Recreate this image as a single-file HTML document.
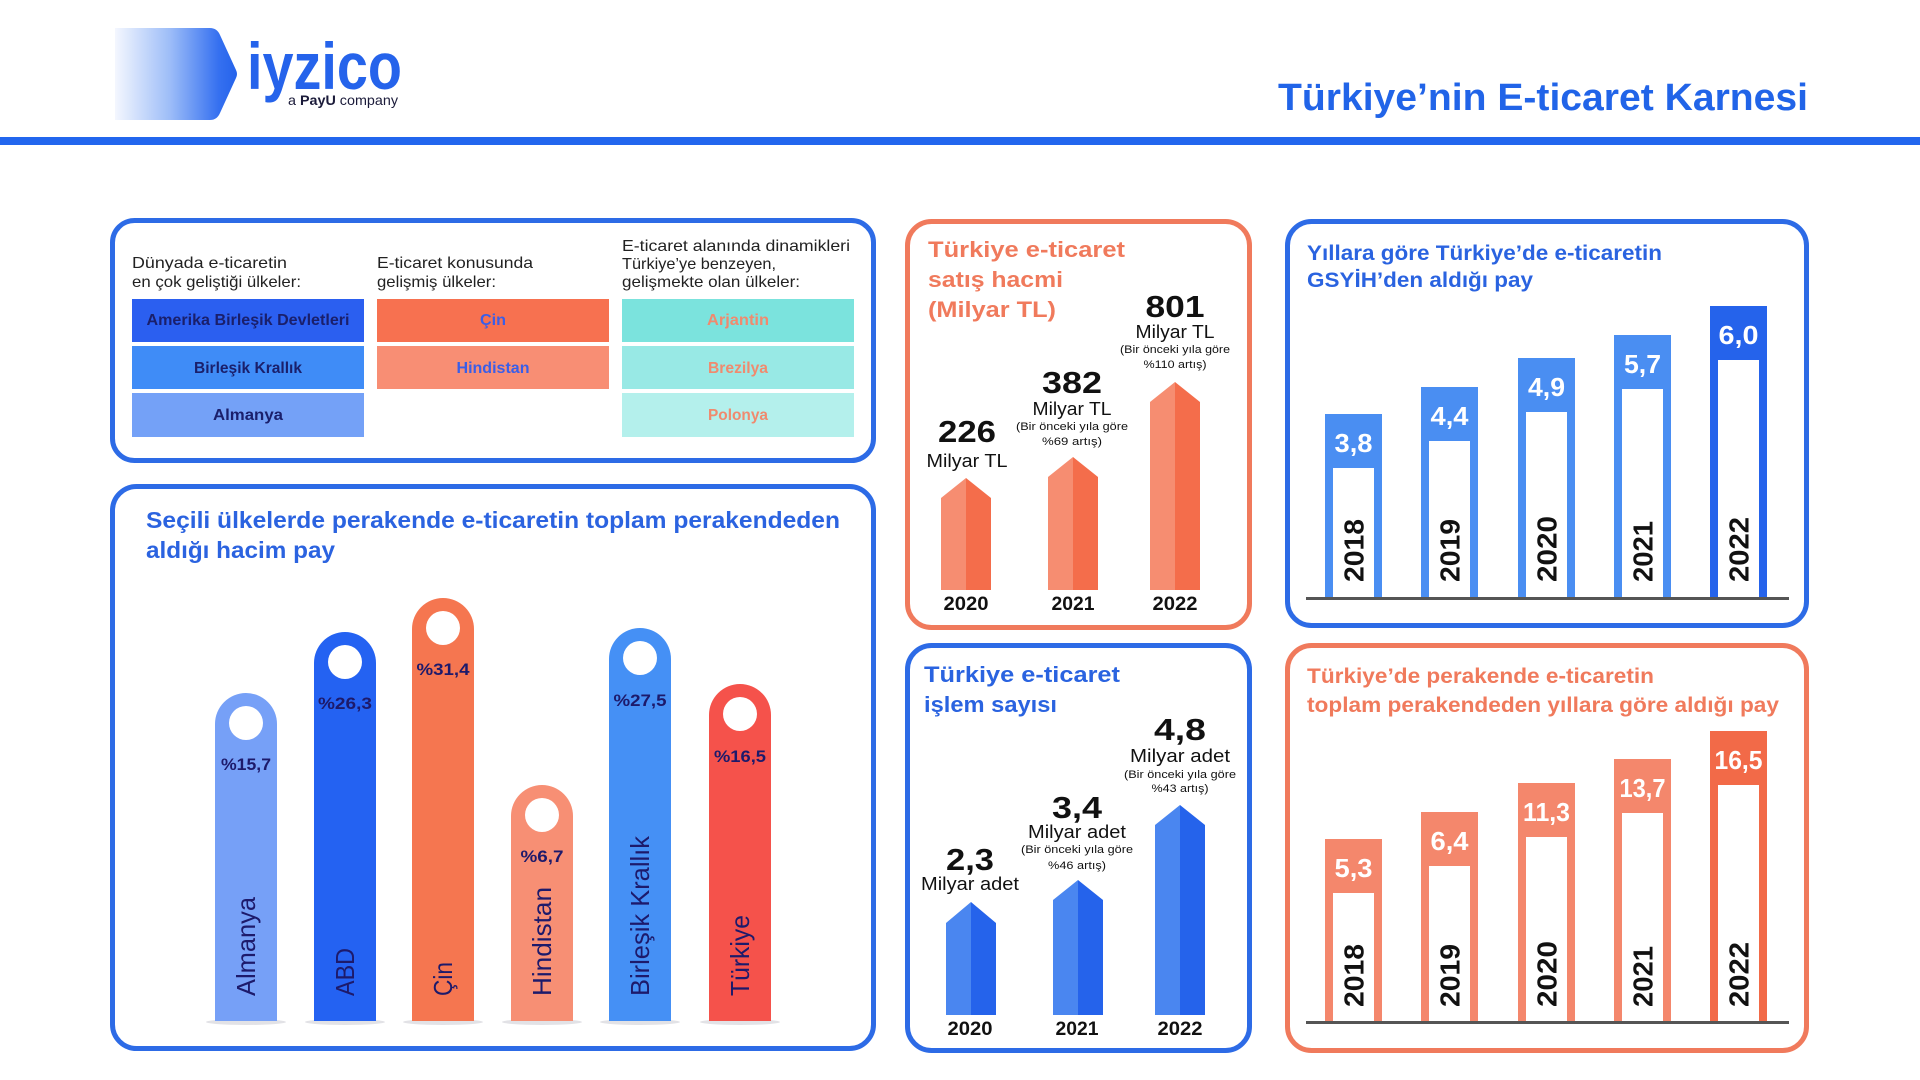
<!DOCTYPE html>
<html><head><meta charset="utf-8">
<style>
html,body{margin:0;padding:0;background:#fff;}
svg{display:block}
text{font-family:"Liberation Sans",sans-serif}
.b{font-weight:bold}
</style></head>
<body>
<svg width="1920" height="1080" viewBox="0 0 1920 1080" xmlns="http://www.w3.org/2000/svg">
<defs>
<linearGradient id="lg" x1="0" x2="1" y1="0" y2="0">
<stop offset="0" stop-color="#f4f7fe"/>
<stop offset="0.45" stop-color="#9dbdf8"/>
<stop offset="0.85" stop-color="#3570f0"/>
<stop offset="1" stop-color="#2563eb"/>
</linearGradient>
</defs>
<rect width="1920" height="1080" fill="#fff"/>

<!-- Logo -->
<path d="M115 28 H210 Q217 28 220 35 L236 70 Q238 74 236 78 L220 113 Q217 120 210 120 H115 Z" fill="url(#lg)"/>
<text x="247" y="89" font-size="66" class="b" fill="#2563eb" textLength="155" lengthAdjust="spacingAndGlyphs">iyzico</text>
<text x="288" y="105" font-size="14" fill="#1b1b3a" textLength="110" lengthAdjust="spacingAndGlyphs">a <tspan font-weight="bold">PayU</tspan> company</text>

<!-- Title -->
<text x="1278" y="110" font-size="38" class="b" fill="#2164e8" textLength="530" lengthAdjust="spacingAndGlyphs">Türkiye’nin E-ticaret Karnesi</text>
<rect x="0" y="137" width="1920" height="8" fill="#2266ee"/>

<!-- Boxes -->
<rect x="112.5" y="220.5" width="761" height="240" rx="22" fill="none" stroke="#2d6be6" stroke-width="5"/>
<rect x="112.5" y="486.5" width="761" height="562" rx="24" fill="none" stroke="#2d6be6" stroke-width="5"/>
<rect x="907.5" y="221.5" width="342" height="406" rx="24" fill="none" stroke="#f07a5c" stroke-width="5"/>
<rect x="907.5" y="645.5" width="342" height="405" rx="24" fill="none" stroke="#2d6be6" stroke-width="5"/>
<rect x="1287.5" y="221.5" width="519" height="404" rx="24" fill="none" stroke="#2d6be6" stroke-width="5"/>
<rect x="1287.5" y="645.5" width="519" height="405" rx="24" fill="none" stroke="#f07a5c" stroke-width="5"/>

<!-- Box 1 -->
<g font-size="16" fill="#222">
<text x="132" y="268" textLength="155" lengthAdjust="spacingAndGlyphs">Dünyada e-ticaretin</text>
<text x="132" y="287" textLength="169" lengthAdjust="spacingAndGlyphs">en çok geliştiği ülkeler:</text>
<text x="377" y="268" textLength="156" lengthAdjust="spacingAndGlyphs">E-ticaret konusunda</text>
<text x="377" y="287" textLength="119" lengthAdjust="spacingAndGlyphs">gelişmiş ülkeler:</text>
<text x="622" y="251" textLength="228" lengthAdjust="spacingAndGlyphs">E-ticaret alanında dinamikleri</text>
<text x="622" y="269" textLength="154" lengthAdjust="spacingAndGlyphs">Türkiye’ye benzeyen,</text>
<text x="622" y="287" textLength="178" lengthAdjust="spacingAndGlyphs">gelişmekte olan ülkeler:</text>
</g>
<rect x="132" y="299" width="232" height="43" fill="#2b5ff0"/>
<rect x="132" y="346" width="232" height="43" fill="#3f8cf7"/>
<rect x="132" y="393" width="232" height="44" fill="#74a1f7"/>
<rect x="377" y="299" width="232" height="43" fill="#f77150"/>
<rect x="377" y="346" width="232" height="43" fill="#f88e74"/>
<rect x="622" y="299" width="232" height="43" fill="#7be3dd"/>
<rect x="622" y="346" width="232" height="43" fill="#98e9e5"/>
<rect x="622" y="393" width="232" height="44" fill="#b4f0ec"/>
<g font-size="16" class="b" text-anchor="middle">
<text x="248" y="325" fill="#1a1f6b" textLength="203" lengthAdjust="spacingAndGlyphs">Amerika Birleşik Devletleri</text>
<text x="248" y="373" fill="#1a1f6b" textLength="108" lengthAdjust="spacingAndGlyphs">Birleşik Krallık</text>
<text x="248" y="420" fill="#1a1f6b" textLength="70" lengthAdjust="spacingAndGlyphs">Almanya</text>
<text x="493" y="325" fill="#3a5ee8" textLength="26" lengthAdjust="spacingAndGlyphs">Çin</text>
<text x="493" y="373" fill="#3a5ee8" textLength="73" lengthAdjust="spacingAndGlyphs">Hindistan</text>
<text x="738" y="325" fill="#f08a6e" textLength="62" lengthAdjust="spacingAndGlyphs">Arjantin</text>
<text x="738" y="373" fill="#f08a6e" textLength="60" lengthAdjust="spacingAndGlyphs">Brezilya</text>
<text x="738" y="420" fill="#f08a6e" textLength="60" lengthAdjust="spacingAndGlyphs">Polonya</text>
</g>

<!-- Box 2 -->
<text x="146" y="528" font-size="23" class="b" fill="#2b63e0" textLength="694" lengthAdjust="spacingAndGlyphs">Seçili ülkelerde perakende e-ticaretin toplam perakendeden</text>
<text x="146" y="558" font-size="23" class="b" fill="#2b63e0" textLength="189" lengthAdjust="spacingAndGlyphs">aldığı hacim pay</text>

<g fill="#cfcfd6" opacity="0.6">
<ellipse cx="246" cy="1022" rx="40" ry="3"/>
<ellipse cx="345" cy="1022" rx="40" ry="3"/>
<ellipse cx="443" cy="1022" rx="40" ry="3"/>
<ellipse cx="542" cy="1022" rx="40" ry="3"/>
<ellipse cx="640" cy="1022" rx="40" ry="3"/>
<ellipse cx="740" cy="1022" rx="40" ry="3"/>
</g>
<path d="M215 1021 V724 A31 31 0 0 1 277 724 V1021 Z" fill="#76a0f7"/>
<path d="M314 1021 V663 A31 31 0 0 1 376 663 V1021 Z" fill="#2462f2"/>
<path d="M412 1021 V629 A31 31 0 0 1 474 629 V1021 Z" fill="#f57650"/>
<path d="M511 1021 V816 A31 31 0 0 1 573 816 V1021 Z" fill="#f78f74"/>
<path d="M609 1021 V659 A31 31 0 0 1 671 659 V1021 Z" fill="#4590f5"/>
<path d="M709 1021 V715 A31 31 0 0 1 771 715 V1021 Z" fill="#f5524b"/>
<g fill="#fff">
<circle cx="246" cy="723" r="17"/>
<circle cx="345" cy="662" r="17"/>
<circle cx="443" cy="628" r="17"/>
<circle cx="542" cy="815" r="17"/>
<circle cx="640" cy="658" r="17"/>
<circle cx="740" cy="714" r="17"/>
</g>
<g font-size="17" class="b" fill="#1d1a6b" text-anchor="middle">
<text x="246" y="770" textLength="50" lengthAdjust="spacingAndGlyphs">%15,7</text>
<text x="345" y="709" textLength="54" lengthAdjust="spacingAndGlyphs">%26,3</text>
<text x="443" y="675" textLength="53" lengthAdjust="spacingAndGlyphs">%31,4</text>
<text x="542" y="862" textLength="43" lengthAdjust="spacingAndGlyphs">%6,7</text>
<text x="640" y="706" textLength="53" lengthAdjust="spacingAndGlyphs">%27,5</text>
<text x="740" y="762" textLength="52" lengthAdjust="spacingAndGlyphs">%16,5</text>
</g>
<g font-size="26" fill="#1d1a6b">
<text transform="translate(255,996) rotate(-90)" textLength="99" lengthAdjust="spacingAndGlyphs">Almanya</text>
<text transform="translate(354,996) rotate(-90)" textLength="48" lengthAdjust="spacingAndGlyphs">ABD</text>
<text transform="translate(452,996) rotate(-90)" textLength="34" lengthAdjust="spacingAndGlyphs">Çin</text>
<text transform="translate(551,996) rotate(-90)" textLength="109" lengthAdjust="spacingAndGlyphs">Hindistan</text>
<text transform="translate(649,996) rotate(-90)" textLength="160" lengthAdjust="spacingAndGlyphs">Birleşik Krallık</text>
<text transform="translate(749,996) rotate(-90)" textLength="81" lengthAdjust="spacingAndGlyphs">Türkiye</text>
</g>

<!-- Box 3 -->
<g font-size="22" class="b" fill="#f07a5c">
<text x="928" y="257" textLength="197" lengthAdjust="spacingAndGlyphs">Türkiye e-ticaret</text>
<text x="928" y="287" textLength="135" lengthAdjust="spacingAndGlyphs">satış hacmi</text>
<text x="928" y="317" textLength="128" lengthAdjust="spacingAndGlyphs">(Milyar TL)</text>
</g>
<path d="M941 590 V498 L966 478 V590 Z" fill="#f68d71"/>
<path d="M966 478 L991 498 V590 H966 Z" fill="#f46d4b"/>
<path d="M1048 590 V477 L1073 457 V590 Z" fill="#f68d71"/>
<path d="M1073 457 L1098 477 V590 H1073 Z" fill="#f46d4b"/>
<path d="M1150 590 V402 L1175 382 V590 Z" fill="#f68d71"/>
<path d="M1175 382 L1200 402 V590 H1175 Z" fill="#f46d4b"/>
<g text-anchor="middle" fill="#111">
<text x="966" y="610" font-size="19" class="b" textLength="45" lengthAdjust="spacingAndGlyphs">2020</text>
<text x="1073" y="610" font-size="19" class="b" textLength="43" lengthAdjust="spacingAndGlyphs">2021</text>
<text x="1175" y="610" font-size="19" class="b" textLength="45" lengthAdjust="spacingAndGlyphs">2022</text>
<text x="967" y="442" font-size="31" class="b" textLength="58" lengthAdjust="spacingAndGlyphs">226</text>
<text x="967" y="467" font-size="18" textLength="81" lengthAdjust="spacingAndGlyphs">Milyar TL</text>
<text x="1072" y="393" font-size="31" class="b" textLength="60" lengthAdjust="spacingAndGlyphs">382</text>
<text x="1072" y="415" font-size="18" textLength="79" lengthAdjust="spacingAndGlyphs">Milyar TL</text>
<text x="1072" y="430" font-size="11" textLength="112" lengthAdjust="spacingAndGlyphs">(Bir önceki yıla göre</text>
<text x="1072" y="445" font-size="11" textLength="60" lengthAdjust="spacingAndGlyphs">%69 artış)</text>
<text x="1175" y="317" font-size="31" class="b" textLength="59" lengthAdjust="spacingAndGlyphs">801</text>
<text x="1175" y="338" font-size="18" textLength="79" lengthAdjust="spacingAndGlyphs">Milyar TL</text>
<text x="1175" y="353" font-size="11" textLength="110" lengthAdjust="spacingAndGlyphs">(Bir önceki yıla göre</text>
<text x="1175" y="368" font-size="11" textLength="63" lengthAdjust="spacingAndGlyphs">%110 artış)</text>
</g>

<!-- Box 4 -->
<g font-size="22" class="b" fill="#2a63e0">
<text x="924" y="682" textLength="196" lengthAdjust="spacingAndGlyphs">Türkiye e-ticaret</text>
<text x="924" y="712" textLength="133" lengthAdjust="spacingAndGlyphs">işlem sayısı</text>
</g>
<path d="M946 1015 V923 L971 902 V1015 Z" fill="#4a86f0"/>
<path d="M971 902 L996 923 V1015 H971 Z" fill="#2563eb"/>
<path d="M1053 1015 V900 L1078 880 V1015 Z" fill="#4a86f0"/>
<path d="M1078 880 L1103 900 V1015 H1078 Z" fill="#2563eb"/>
<path d="M1155 1015 V825 L1180 805 V1015 Z" fill="#4a86f0"/>
<path d="M1180 805 L1205 825 V1015 H1180 Z" fill="#2563eb"/>
<g text-anchor="middle" fill="#111">
<text x="970" y="1035" font-size="19" class="b" textLength="45" lengthAdjust="spacingAndGlyphs">2020</text>
<text x="1077" y="1035" font-size="19" class="b" textLength="43" lengthAdjust="spacingAndGlyphs">2021</text>
<text x="1180" y="1035" font-size="19" class="b" textLength="45" lengthAdjust="spacingAndGlyphs">2022</text>
<text x="970" y="870" font-size="31" class="b" textLength="48" lengthAdjust="spacingAndGlyphs">2,3</text>
<text x="970" y="890" font-size="18" textLength="98" lengthAdjust="spacingAndGlyphs">Milyar adet</text>
<text x="1077" y="818" font-size="31" class="b" textLength="50" lengthAdjust="spacingAndGlyphs">3,4</text>
<text x="1077" y="838" font-size="18" textLength="98" lengthAdjust="spacingAndGlyphs">Milyar adet</text>
<text x="1077" y="853" font-size="11" textLength="112" lengthAdjust="spacingAndGlyphs">(Bir önceki yıla göre</text>
<text x="1077" y="869" font-size="11" textLength="58" lengthAdjust="spacingAndGlyphs">%46 artış)</text>
<text x="1180" y="740" font-size="31" class="b" textLength="52" lengthAdjust="spacingAndGlyphs">4,8</text>
<text x="1180" y="762" font-size="18" textLength="100" lengthAdjust="spacingAndGlyphs">Milyar adet</text>
<text x="1180" y="778" font-size="11" textLength="112" lengthAdjust="spacingAndGlyphs">(Bir önceki yıla göre</text>
<text x="1180" y="792" font-size="11" textLength="57" lengthAdjust="spacingAndGlyphs">%43 artış)</text>
</g>

<!-- Box 5 -->
<g font-size="21" class="b" fill="#2a63e0">
<text x="1307" y="260" textLength="355" lengthAdjust="spacingAndGlyphs">Yıllara göre Türkiye’de e-ticaretin</text>
<text x="1307" y="287" textLength="226" lengthAdjust="spacingAndGlyphs">GSYİH’den aldığı pay</text>
</g>
<rect x="1325" y="414" width="57" height="184" fill="#4a8ef2"/>
<rect x="1421" y="387" width="57" height="211" fill="#4a8ef2"/>
<rect x="1518" y="358" width="57" height="240" fill="#4a8ef2"/>
<rect x="1614" y="335" width="57" height="263" fill="#4a8ef2"/>
<rect x="1710" y="306" width="57" height="292" fill="#2563eb"/>
<g fill="#fff">
<rect x="1333" y="468" width="41" height="130"/>
<rect x="1429" y="441" width="41" height="157"/>
<rect x="1526" y="412" width="41" height="186"/>
<rect x="1622" y="389" width="41" height="209"/>
<rect x="1718" y="360" width="41" height="238"/>
</g>
<rect x="1306" y="597" width="483" height="3" fill="#555"/>
<g font-size="26" class="b" fill="#fff" text-anchor="middle">
<text x="1353.5" y="452" textLength="38" lengthAdjust="spacingAndGlyphs">3,8</text>
<text x="1449.5" y="425" textLength="38" lengthAdjust="spacingAndGlyphs">4,4</text>
<text x="1546.5" y="396" textLength="37" lengthAdjust="spacingAndGlyphs">4,9</text>
<text x="1642.5" y="373" textLength="37" lengthAdjust="spacingAndGlyphs">5,7</text>
<text x="1738.5" y="344" textLength="40" lengthAdjust="spacingAndGlyphs">6,0</text>
</g>
<g font-size="28" class="b" fill="#111">
<text transform="translate(1363.5,582) rotate(-90)" textLength="63" lengthAdjust="spacingAndGlyphs">2018</text>
<text transform="translate(1459.5,582) rotate(-90)" textLength="63" lengthAdjust="spacingAndGlyphs">2019</text>
<text transform="translate(1556.5,582) rotate(-90)" textLength="66" lengthAdjust="spacingAndGlyphs">2020</text>
<text transform="translate(1652.5,582) rotate(-90)" textLength="61" lengthAdjust="spacingAndGlyphs">2021</text>
<text transform="translate(1748.5,582) rotate(-90)" textLength="65" lengthAdjust="spacingAndGlyphs">2022</text>
</g>

<!-- Box 6 -->
<g font-size="21" class="b" fill="#f07a5c">
<text x="1307" y="683" textLength="347" lengthAdjust="spacingAndGlyphs">Türkiye’de perakende e-ticaretin</text>
<text x="1307" y="712" textLength="472" lengthAdjust="spacingAndGlyphs">toplam perakendeden yıllara göre aldığı pay</text>
</g>
<rect x="1325" y="839" width="57" height="183" fill="#f4876c"/>
<rect x="1421" y="812" width="57" height="210" fill="#f4876c"/>
<rect x="1518" y="783" width="57" height="239" fill="#f4876c"/>
<rect x="1614" y="759" width="57" height="263" fill="#f4876c"/>
<rect x="1710" y="731" width="57" height="291" fill="#f26a48"/>
<g fill="#fff">
<rect x="1333" y="893" width="41" height="129"/>
<rect x="1429" y="866" width="41" height="156"/>
<rect x="1526" y="837" width="41" height="185"/>
<rect x="1622" y="813" width="41" height="209"/>
<rect x="1718" y="785" width="41" height="237"/>
</g>
<rect x="1306" y="1021" width="483" height="3" fill="#555"/>
<g font-size="26" class="b" fill="#fff" text-anchor="middle">
<text x="1353.5" y="877" textLength="38" lengthAdjust="spacingAndGlyphs">5,3</text>
<text x="1449.5" y="850" textLength="38" lengthAdjust="spacingAndGlyphs">6,4</text>
<text x="1546.5" y="821" textLength="47" lengthAdjust="spacingAndGlyphs">11,3</text>
<text x="1642.5" y="797" textLength="46" lengthAdjust="spacingAndGlyphs">13,7</text>
<text x="1738.5" y="769" textLength="48" lengthAdjust="spacingAndGlyphs">16,5</text>
</g>
<g font-size="28" class="b" fill="#111">
<text transform="translate(1363.5,1007) rotate(-90)" textLength="63" lengthAdjust="spacingAndGlyphs">2018</text>
<text transform="translate(1459.5,1007) rotate(-90)" textLength="63" lengthAdjust="spacingAndGlyphs">2019</text>
<text transform="translate(1556.5,1007) rotate(-90)" textLength="66" lengthAdjust="spacingAndGlyphs">2020</text>
<text transform="translate(1652.5,1007) rotate(-90)" textLength="61" lengthAdjust="spacingAndGlyphs">2021</text>
<text transform="translate(1748.5,1007) rotate(-90)" textLength="65" lengthAdjust="spacingAndGlyphs">2022</text>
</g>
</svg>
</body></html>
